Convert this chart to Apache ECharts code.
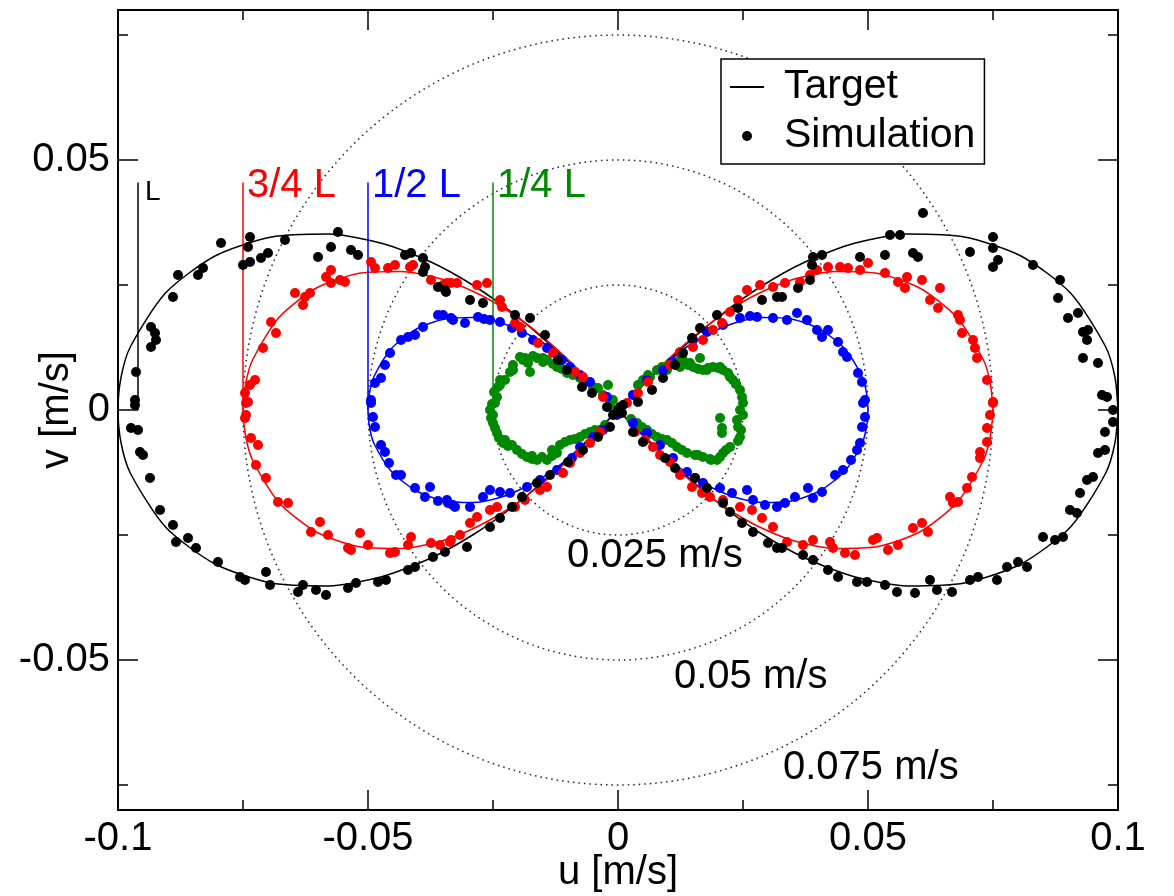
<!DOCTYPE html>
<html>
<head>
<meta charset="utf-8">
<title>Figure-eight velocity trajectories</title>
<script src="https://cdn.jsdelivr.net/npm/echarts@6/dist/echarts.min.js"></script>
<style>
  html, body { margin: 0; padding: 0; background: #fff; }
  #chart { width: 1174px; height: 896px; }
</style>
</head>
<body>
<div id="chart"></div>
<script>
// axis ticks (m/s)
const uMajor = [-0.1, -0.05, 0, 0.05, 0.1];
const uMinor = [-0.075, -0.025, 0.025, 0.075];
const vMajor = [-0.05, 0, 0.05];
const vMinor = [-0.075, -0.025, 0.025, 0.075];

// dotted speed rings
const ringSpeeds = [0.025, 0.05, 0.075];
const ringLabels = ['0.025 m/s', '0.05 m/s', '0.075 m/s'];

// amplitude markers
const markerU = [-0.096, -0.075, -0.05, -0.025];
const markerTop = 0.0455;
const markerNames = ['L', '3/4 L', '1/2 L', '1/4 L'];
const markerColors = ['#000000', '#ff0000', '#0000ff', '#008800'];

// target trajectories [u, v]
const targetL = [
  [0.1,0],[0.0994,0.0065],[0.0975,0.0127],[0.0905,0.0234],[0.0806,0.0308],[0.0693,0.0346],[0.0579,0.0352],
  [0.0471,0.0333],[0.0374,0.0296],[0.0286,0.0247],[0.0207,0.0191],[0.0134,0.0129],[0.0066,0.0065],[0,0],
  [-0.0066,-0.0065],[-0.0134,-0.0129],[-0.0207,-0.0191],[-0.0286,-0.0247],[-0.0374,-0.0296],[-0.0471,-0.0333],
  [-0.0579,-0.0352],[-0.0693,-0.0346],[-0.0806,-0.0308],[-0.0905,-0.0234],[-0.0975,-0.0127],[-0.0994,-0.0065],[-0.1,0],
  [-0.0994,0.0065],[-0.0975,0.0127],[-0.0905,0.0234],[-0.0806,0.0308],[-0.0693,0.0346],[-0.0579,0.0352],
  [-0.0471,0.0333],[-0.0374,0.0296],[-0.0286,0.0247],[-0.0207,0.0191],[-0.0134,0.0129],[-0.0066,0.0065],[0,0],
  [0.0066,-0.0065],[0.0134,-0.0129],[0.0207,-0.0191],[0.0286,-0.0247],[0.0374,-0.0296],[0.0471,-0.0333],
  [0.0579,-0.0352],[0.0693,-0.0346],[0.0806,-0.0308],[0.0905,-0.0234],[0.0975,-0.0127],[0.0994,-0.0065],[0.1,0]
];
const target34L = [
  [0.075,0],[0.0745,0.0051],[0.0731,0.0100],[0.0679,0.0184],[0.0605,0.0243],[0.0520,0.0273],[0.0434,0.0277],
  [0.0353,0.0262],[0.0281,0.0233],[0.0215,0.0195],[0.0155,0.0150],[0.0101,0.0102],[0.0050,0.0051],[0,0],
  [-0.0050,-0.0051],[-0.0101,-0.0102],[-0.0155,-0.0150],[-0.0215,-0.0195],[-0.0281,-0.0233],[-0.0353,-0.0262],
  [-0.0434,-0.0277],[-0.0520,-0.0273],[-0.0605,-0.0243],[-0.0679,-0.0184],[-0.0731,-0.0100],[-0.0745,-0.0051],[-0.075,0],
  [-0.0745,0.0051],[-0.0731,0.0100],[-0.0679,0.0184],[-0.0605,0.0243],[-0.0520,0.0273],[-0.0434,0.0277],
  [-0.0353,0.0262],[-0.0281,0.0233],[-0.0215,0.0195],[-0.0155,0.0150],[-0.0101,0.0102],[-0.0050,0.0051],[0,0],
  [0.0050,-0.0051],[0.0101,-0.0102],[0.0155,-0.0150],[0.0215,-0.0195],[0.0281,-0.0233],[0.0353,-0.0262],
  [0.0434,-0.0277],[0.0520,-0.0273],[0.0605,-0.0243],[0.0679,-0.0184],[0.0731,-0.0100],[0.0745,-0.0051],[0.075,0]
];
const target12L = [
  [0.05,0],[0.0497,0.0034],[0.0488,0.0067],[0.0453,0.0123],[0.0403,0.0162],[0.0347,0.0182],[0.0290,0.0185],
  [0.0236,0.0175],[0.0187,0.0155],[0.0143,0.0130],[0.0104,0.0100],[0.0067,0.0068],[0.0033,0.0034],[0,0],
  [-0.0033,-0.0034],[-0.0067,-0.0068],[-0.0104,-0.0100],[-0.0143,-0.0130],[-0.0187,-0.0155],[-0.0236,-0.0175],
  [-0.0290,-0.0185],[-0.0347,-0.0182],[-0.0403,-0.0162],[-0.0453,-0.0123],[-0.0488,-0.0067],[-0.0497,-0.0034],[-0.05,0],
  [-0.0497,0.0034],[-0.0488,0.0067],[-0.0453,0.0123],[-0.0403,0.0162],[-0.0347,0.0182],[-0.0290,0.0185],
  [-0.0236,0.0175],[-0.0187,0.0155],[-0.0143,0.0130],[-0.0104,0.0100],[-0.0067,0.0068],[-0.0033,0.0034],[0,0],
  [0.0033,-0.0034],[0.0067,-0.0068],[0.0104,-0.0100],[0.0143,-0.0130],[0.0187,-0.0155],[0.0236,-0.0175],
  [0.0290,-0.0185],[0.0347,-0.0182],[0.0403,-0.0162],[0.0453,-0.0123],[0.0488,-0.0067],[0.0497,-0.0034],[0.05,0]
];

// simulated samples [u, v]
const simL = [
  [-0.0794,0.0334],[-0.0736,0.0346],[-0.0740,0.0326],[-0.0750,0.0290],[-0.0736,0.0296],[-0.0666,0.0340],[-0.0560,0.0356],
  [-0.0574,0.0326],[-0.0600,0.0306],[-0.0714,0.0304],[-0.0700,0.0314],[-0.0534,0.0320],[-0.0520,0.0310],[-0.0426,0.0310],
  [-0.0414,0.0314],[-0.0390,0.0304],[-0.0386,0.0286],[-0.0390,0.0276],[-0.0360,0.0246],[-0.0344,0.0236],[-0.0830,0.0284],
  [-0.0840,0.0270],[-0.0880,0.0270],[-0.0890,0.0226],[-0.0934,0.0166],[-0.0926,0.0154],[-0.0924,0.0140],[-0.0934,0.0126],
  [-0.0964,0.0076],[-0.0966,0.0020],
  [-0.0966,0.0010],[-0.0974,-0.0036],[-0.0960,-0.0040],[-0.0956,-0.0084],[-0.0950,-0.0090],[-0.0936,-0.0136],[-0.0916,-0.0200],
  [-0.0890,-0.0230],[-0.0884,-0.0264],[-0.0860,-0.0256],[-0.0844,-0.0276],[-0.0800,-0.0304],[-0.0756,-0.0334],[-0.0746,-0.0340],
  [-0.0704,-0.0324],[-0.0696,-0.0350],[-0.0640,-0.0364],[-0.0630,-0.0350],[-0.0604,-0.0360],[-0.0584,-0.0370],[-0.0540,-0.0356],
  [-0.0524,-0.0346],[-0.0480,-0.0344],[-0.0464,-0.0340],[-0.0420,-0.0320],[-0.0406,-0.0314],[-0.0370,-0.0294],[-0.0346,-0.0284],
  [-0.0346,0.0240],[-0.0296,0.0220],[-0.0270,0.0214],[-0.0206,0.0190],[-0.0176,0.0184],[-0.0146,0.0150],[-0.0120,0.0100],
  [-0.0102,0.0080],[-0.0072,0.0046],[-0.0052,0.0034],[-0.0022,0.0006],[0.0004,0.0006],[0.0040,0.0016],[0.0068,0.0040],
  [0.0090,0.0064],[0.0114,0.0090],[0.0130,0.0114],[0.0148,0.0144],[0.0164,0.0164],[0.0198,0.0190],[0.0240,0.0204],
  [0.0288,0.0220],[0.0318,0.0226],[0,0],[0.0010,0.0010],[-0.0010,-0.0010],
  [-0.0016,-0.0034],[-0.0040,-0.0054],[-0.0070,-0.0080],[-0.0100,-0.0104],[-0.0136,-0.0130],[-0.0162,-0.0146],[-0.0192,-0.0174],
  [-0.0212,-0.0194],[-0.0236,-0.0216],[-0.0256,-0.0234],[-0.0302,-0.0274],[0.0008,-0.0006],[0.0030,-0.0044],[0.0050,-0.0064],
  [0.0094,-0.0096],[0.0114,-0.0116],[0.0154,-0.0136],[0.0178,-0.0156],[0.0210,-0.0186],[0.0224,-0.0204],[0.0248,-0.0226],
  [0.0270,-0.0244],[0.0300,-0.0266],[0.0318,-0.0276],
  [0.0610,0.0394],[0.0544,0.0350],[0.0564,0.0350],[0.0390,0.0306],[0.0408,0.0310],[0.0388,0.0290],[0.0384,0.0260],
  [0.0360,0.0244],[0.0328,0.0226],[0.0484,0.0306],[0.0534,0.0310],[0.0590,0.0314],[0.0600,0.0306],[0.0704,0.0316],
  [0.0750,0.0346],[0.0750,0.0324],[0.0760,0.0300],[0.0750,0.0286],[0.0830,0.0290],[0.0884,0.0260],[0.0880,0.0224],
  [0.0900,0.0184],[0.0920,0.0194],[0.0930,0.0156],[0.0940,0.0160],[0.0938,0.0140],[0.0930,0.0104],[0.0960,0.0094],
  [0.0968,0.0030],[0.0978,0.0026],
  [0.0328,-0.0276],[0.0370,-0.0290],[0.0390,-0.0300],[0.0420,-0.0320],[0.0440,-0.0334],[0.0478,-0.0344],[0.0498,-0.0344],
  [0.0534,-0.0350],[0.0558,-0.0364],[0.0594,-0.0366],[0.0624,-0.0340],[0.0638,-0.0360],[0.0668,-0.0364],[0.0704,-0.0340],
  [0.0720,-0.0334],[0.0758,-0.0340],[0.0778,-0.0314],[0.0800,-0.0304],[0.0818,-0.0314],[0.0850,-0.0254],[0.0874,-0.0260],
  [0.0890,-0.0254],[0.0904,-0.0200],[0.0918,-0.0206],[0.0924,-0.0166],[0.0938,-0.0140],[0.0950,-0.0134],[0.0960,-0.0086],
  [0.0974,-0.0080],[0.0974,-0.0044],[0.0990,-0.0024],[0.0990,0.0000]
];
const sim34L = [
  [-0.0574,0.0280],[-0.0584,0.0266],[-0.0574,0.0254],[-0.0556,0.0260],[-0.0546,0.0256],[-0.0494,0.0296],[-0.0486,0.0284],
  [-0.0460,0.0284],[-0.0446,0.0290],[-0.0416,0.0286],[-0.0410,0.0290],[-0.0374,0.0260],[-0.0350,0.0250],[-0.0334,0.0254],
  [-0.0646,0.0234],[-0.0626,0.0226],[-0.0616,0.0234],[-0.0630,0.0210],[-0.0694,0.0176],[-0.0684,0.0154],[-0.0710,0.0124],
  [-0.0726,0.0060],[-0.0736,0.0050],[-0.0746,0.0034],[-0.0740,0.0016],
  [-0.0744,0.0014],[-0.0744,-0.0010],[-0.0746,-0.0016],[-0.0734,-0.0056],[-0.0720,-0.0070],[-0.0724,-0.0110],[-0.0704,-0.0136],
  [-0.0680,-0.0184],[-0.0660,-0.0186],[-0.0614,-0.0244],[-0.0596,-0.0224],[-0.0580,-0.0250],[-0.0540,-0.0276],[-0.0534,-0.0280],
  [-0.0516,-0.0246],[-0.0500,-0.0270],[-0.0456,-0.0286],[-0.0446,-0.0284],[-0.0414,-0.0254],[-0.0420,-0.0270],[-0.0374,-0.0266],
  [-0.0356,-0.0270],[-0.0334,-0.0260],
  [-0.0342,0.0254],[-0.0322,0.0254],[-0.0282,0.0250],[-0.0262,0.0254],[-0.0236,0.0220],[-0.0232,0.0206],[-0.0206,0.0174],
  [-0.0196,0.0166],[-0.0160,0.0134],[-0.0130,0.0114],[-0.0086,0.0076],[-0.0070,0.0066],[-0.0030,0.0026],[0.0018,0.0014],
  [0.0040,0.0034],[0.0060,0.0056],[0.0104,0.0090],[0.0124,0.0116],[0.0150,0.0126],[0.0170,0.0140],[0.0190,0.0160],
  [0.0208,0.0174],[0.0224,0.0196],[0.0240,0.0220],[0.0258,0.0240],[0.0284,0.0250],[0.0310,0.0246],
  [-0.0036,-0.0044],[-0.0056,-0.0066],[-0.0076,-0.0086],[-0.0096,-0.0106],[-0.0110,-0.0126],[-0.0142,-0.0154],[-0.0156,-0.0160],
  [-0.0186,-0.0180],[-0.0206,-0.0194],[-0.0242,-0.0194],[-0.0256,-0.0200],[-0.0282,-0.0214],[-0.0296,-0.0226],[-0.0316,-0.0250],
  [-0.0336,-0.0264],[0.0034,-0.0044],[0.0054,-0.0060],[0.0070,-0.0074],[0.0084,-0.0090],[0.0104,-0.0104],[0.0124,-0.0130],
  [0.0148,-0.0154],[0.0168,-0.0166],[0.0184,-0.0174],[0.0210,-0.0180],[0.0244,-0.0194],[0.0268,-0.0200],[0.0288,-0.0216],
  [0.0310,-0.0234],
  [0.0334,0.0254],[0.0364,0.0256],[0.0384,0.0270],[0.0398,0.0280],[0.0420,0.0286],[0.0444,0.0286],[0.0460,0.0284],
  [0.0484,0.0280],[0.0500,0.0294],[0.0534,0.0274],[0.0560,0.0256],[0.0578,0.0266],[0.0574,0.0244],[0.0608,0.0260],
  [0.0644,0.0244],[0.0624,0.0220],[0.0640,0.0204],[0.0680,0.0190],[0.0684,0.0180],[0.0688,0.0154],[0.0710,0.0140],
  [0.0714,0.0124],[0.0718,0.0104],[0.0738,0.0060],[0.0750,0.0016],
  [0.0750,0.0014],[0.0744,-0.0010],[0.0738,-0.0036],[0.0738,-0.0064],[0.0724,-0.0084],[0.0724,-0.0096],[0.0708,-0.0134],
  [0.0698,-0.0156],[0.0664,-0.0174],[0.0670,-0.0186],[0.0680,-0.0184],[0.0608,-0.0226],[0.0590,-0.0236],[0.0620,-0.0244],
  [0.0560,-0.0270],[0.0540,-0.0280],[0.0518,-0.0256],[0.0510,-0.0260],[0.0474,-0.0290],[0.0454,-0.0286],[0.0430,-0.0276],
  [0.0424,-0.0264],[0.0390,-0.0260],[0.0370,-0.0270],[0.0338,-0.0264]
];
const sim12L = [
  [-0.0360,0.0190],[-0.0334,0.0184],[-0.0390,0.0166],[-0.0406,0.0150],[-0.0434,0.0140],[-0.0456,0.0114],[-0.0474,0.0064],
  [-0.0486,0.0054],[-0.0494,0.0020],[-0.0420,0.0146],[-0.0466,0.0090],
  [-0.0494,0.0014],[-0.0490,-0.0014],[-0.0486,-0.0034],[-0.0474,-0.0070],[-0.0466,-0.0084],[-0.0444,-0.0130],[-0.0434,-0.0130],
  [-0.0406,-0.0156],[-0.0376,-0.0154],[-0.0386,-0.0174],[-0.0340,-0.0186],[-0.0326,-0.0194],[-0.0458,-0.0106],[-0.0360,-0.0182],
  [-0.0350,0.0190],[-0.0330,0.0180],[-0.0306,0.0174],[-0.0280,0.0186],[-0.0256,0.0180],[-0.0236,0.0176],[-0.0212,0.0164],
  [-0.0192,0.0154],[-0.0170,0.0140],[-0.0142,0.0124],[-0.0112,0.0100],[-0.0096,0.0086],[-0.0056,0.0056],[-0.0022,0.0026],
  [0.0030,0.0030],[0.0058,0.0060],[0.0090,0.0080],[0.0124,0.0114],[0.0150,0.0140],[0.0178,0.0156],[0.0210,0.0170],
  [0.0244,0.0184],[0.0278,0.0186],[0.0310,0.0184],[-0.0076,0.0070],[0.0108,0.0096],[0.0264,0.0188],[-0.0268,0.0182],
  [-0.0002,-0.0010],[-0.0030,-0.0040],[-0.0050,-0.0054],[-0.0076,-0.0074],[-0.0092,-0.0096],[-0.0122,-0.0120],[-0.0156,-0.0140],
  [-0.0182,-0.0154],[-0.0216,-0.0166],[-0.0256,-0.0160],[-0.0270,-0.0174],[-0.0296,-0.0194],[-0.0330,-0.0190],[-0.0342,-0.0180],
  [0.0030,-0.0026],[0.0058,-0.0046],[0.0084,-0.0070],[0.0110,-0.0096],[0.0138,-0.0124],[0.0170,-0.0146],[0.0204,-0.0156],
  [0.0228,-0.0166],[0.0258,-0.0160],[0.0270,-0.0180],[0.0294,-0.0190],[0.0318,-0.0194],[-0.0236,-0.0164],[0.0154,-0.0136],
  [0.0338,0.0180],[0.0358,0.0194],[0.0378,0.0180],[0.0398,0.0160],[0.0420,0.0160],[0.0408,0.0146],[0.0440,0.0136],
  [0.0450,0.0116],[0.0458,0.0106],[0.0480,0.0074],[0.0488,0.0056],[0.0494,0.0020],
  [0.0490,0.0014],[0.0494,-0.0014],[0.0488,-0.0034],[0.0484,-0.0066],[0.0478,-0.0080],[0.0450,-0.0120],[0.0434,-0.0130],
  [0.0408,-0.0164],[0.0380,-0.0156],[0.0390,-0.0176],[0.0354,-0.0174],[0.0334,-0.0186],[0.0466,-0.0100]
];
const sim14L = [
  [-0.0246,0.0014],[-0.0240,0.0046],[-0.0226,0.0060],[-0.0210,0.0080],[-0.0196,0.0106],[-0.0180,0.0094],[-0.0162,0.0104],
  [-0.0142,0.0100],[-0.0122,0.0086],[-0.0102,0.0074],[-0.0076,0.0064],[-0.0050,0.0046],[-0.0020,0.0050],[-0.0010,0.0020],
  [-0.0216,0.0076],[-0.0176,0.0076],[-0.0236,0.0060],[-0.0242,0.0026],[-0.0256,0.0000],[-0.0250,-0.0026],[-0.0242,-0.0046],
  [-0.0230,-0.0066],[-0.0202,-0.0080],[-0.0182,-0.0094],[-0.0162,-0.0100],[-0.0142,-0.0100],[-0.0122,-0.0086],[-0.0116,-0.0070],
  [-0.0096,-0.0060],[-0.0076,-0.0054],[-0.0056,-0.0044],[-0.0036,-0.0040],[-0.0016,0.0006],[-0.0190,0.0100],[-0.0150,0.0096],
  [-0.0220,-0.0072],[-0.0172,-0.0098],[-0.0132,-0.0092],[-0.0250,-0.0010],[-0.0086,-0.0058],
  [-0.0236,0.0050],[-0.0210,0.0090],[-0.0186,0.0104],[-0.0170,0.0108],[-0.0150,0.0104],[-0.0130,0.0092],[-0.0112,0.0082],
  [-0.0090,0.0070],[-0.0064,0.0056],[-0.0040,0.0044],[-0.0030,0.0030],[-0.0226,-0.0060],[-0.0212,-0.0070],[-0.0192,-0.0088],
  [-0.0172,-0.0092],[-0.0152,-0.0094],[-0.0132,-0.0080],[-0.0106,-0.0064],[-0.0066,-0.0048],[-0.0046,-0.0040],[-0.0026,-0.0030],
  [-0.0248,0.0036],[-0.0252,0.0012],[-0.0254,-0.0016],[-0.0246,-0.0036],[-0.0238,-0.0056],
  [0.0064,0.0066],[0.0098,0.0080],[0.0124,0.0086],[0.0144,0.0094],[0.0164,0.0104],[0.0178,0.0080],[0.0204,0.0086],
  [0.0224,0.0066],[0.0244,0.0040],[0.0250,0.0014],[0.0050,0.0060],[0.0078,0.0080],[0.0104,0.0094],[0.0130,0.0100],
  [0.0150,0.0086],[0.0170,0.0080],[0.0190,0.0086],[0.0210,0.0080],[0.0230,0.0060],[0.0244,0.0000],[0.0238,-0.0020],
  [0.0244,-0.0054],[0.0224,-0.0074],[0.0210,-0.0086],[0.0198,-0.0100],[0.0170,-0.0094],[0.0138,-0.0086],[0.0118,-0.0074],
  [0.0098,-0.0060],[0.0078,-0.0054],[0.0058,-0.0040],[0.0038,-0.0026],[0.0204,-0.0016],[0.0208,-0.0036],[0.0208,-0.0046],
  [0.0184,-0.0098],[0.0154,-0.0090],[0.0240,-0.0034],[0.0236,0.0052],[0.0030,0.0030],
  [0.0040,0.0050],[0.0060,0.0070],[0.0088,0.0086],[0.0116,0.0096],[0.0140,0.0090],[0.0160,0.0082],[0.0180,0.0084],
  [0.0200,0.0084],[0.0220,0.0074],[0.0236,0.0052],[0.0248,0.0026],[0.0250,-0.0010],[0.0246,-0.0040],[0.0240,-0.0062],
  [0.0216,-0.0080],[0.0204,-0.0094],[0.0186,-0.0100],[0.0160,-0.0090],[0.0128,-0.0080],[0.0108,-0.0066],[0.0088,-0.0058],
  [0.0068,-0.0048],[0.0048,-0.0034],[0.0026,-0.0018]
];

const FONT = "'Liberation Sans', Arial, Helvetica, sans-serif";
const INK = '#000';

// frame axis: line + ticks pointing inside
function frameX(gridIndex, position, ticks, len, labels, line) {
  return {
    type: 'value', gridIndex: gridIndex, position: position, min: -0.1, max: 0.1,
    axisLine: { show: line, onZero: false, lineStyle: { color: INK, width: 2 } },
    axisTick: { show: true, inside: true, length: len, customValues: ticks, lineStyle: { color: INK, width: 1.5 } },
    axisLabel: { show: labels, customValues: ticks, margin: 9, fontSize: 40, color: INK, fontFamily: FONT },
    splitLine: { show: false }
  };
}
function frameY(gridIndex, position, ticks, len, labels, line) {
  return {
    type: 'value', gridIndex: gridIndex, position: position, min: -0.08, max: 0.08,
    axisLine: { show: line, onZero: false, lineStyle: { color: INK, width: 2 } },
    axisTick: { show: true, inside: true, length: len, customValues: ticks, lineStyle: { color: INK, width: 1.5 } },
    axisLabel: { show: labels, customValues: ticks, margin: 8, fontSize: 40, color: INK, fontFamily: FONT },
    splitLine: { show: false }
  };
}

const xMain = frameX(0, 'bottom', uMajor, 20, true, true);
xMain.name = 'u [m/s]';
xMain.nameLocation = 'middle';
xMain.nameGap = 43;
xMain.nameMoveOverlap = false;
xMain.nameTextStyle = { fontSize: 40, color: INK, fontFamily: FONT };
const yMain = frameY(0, 'left', vMajor, 20, true, true);
yMain.name = 'v [m/s]';
yMain.nameLocation = 'middle';
yMain.nameGap = 41;
yMain.nameMoveOverlap = false;
yMain.nameTextStyle = { fontSize: 40, color: INK, fontFamily: FONT };

const targets = [targetL, target34L, target12L];
const sims = [sim14L, sim12L, sim34L, simL];
const simColors = ['#008800', '#0000ff', '#ff0000', '#000000'];

const series = [];
targets.forEach(function (d, i) {
  series.push({
    name: i === 0 ? 'Target' : 'Target ' + markerNames[i],
    type: 'line', data: d, xAxisIndex: 0, yAxisIndex: 0,
    symbol: 'none', smooth: 0.25, z: 3,
    lineStyle: { color: markerColors[i], width: 1.5 },
    itemStyle: { color: markerColors[i] }
  });
});
sims.forEach(function (d, i) {
  series.push({
    name: i === 3 ? 'Simulation' : 'Simulation ' + i,
    type: 'scatter', data: d, xAxisIndex: 0, yAxisIndex: 0,
    symbol: 'circle', symbolSize: 10, z: 4 + i,
    itemStyle: { color: simColors[i], opacity: 1 }
  });
});
markerU.forEach(function (u, i) {
  series.push({
    name: 'marker ' + markerNames[i],
    type: 'line', data: [[u, 0], [u, markerTop]], xAxisIndex: 0, yAxisIndex: 0,
    symbol: 'none', z: 3,
    lineStyle: { color: markerColors[i], width: 1.5 },
    endLabel: {
      show: true, formatter: markerNames[i], color: markerColors[i], fontFamily: FONT,
      fontSize: i === 0 ? 28 : 40, distance: i === 0 ? 7 : 4, offset: [0, i === 0 ? 10 : 3]
    }
  });
});

const gridBox = { left: 118, right: 56, top: 10, bottom: 86, containLabel: false, outerBoundsMode: 'none' };

const option = {
  animation: false,
  backgroundColor: '#fff',
  grid: [Object.assign({}, gridBox), Object.assign({}, gridBox)],
  xAxis: [
    xMain,
    frameX(0, 'top', uMajor, 20, false, true),
    frameX(1, 'bottom', uMinor, 10, false, false),
    frameX(1, 'top', uMinor, 10, false, false)
  ],
  yAxis: [
    yMain,
    frameY(0, 'right', vMajor, 20, false, true),
    frameY(1, 'left', vMinor, 10, false, false),
    frameY(1, 'right', vMinor, 10, false, false)
  ],
  polar: { center: [618, 410], radius: 375 },
  radiusAxis: {
    type: 'value', min: 0, max: ringSpeeds[ringSpeeds.length - 1], interval: ringSpeeds[0],
    axisLine: { show: false }, axisTick: { show: false }, axisLabel: { show: false },
    splitLine: { show: true, lineStyle: { color: '#222', width: 1.5, type: [1.5, 4] } }
  },
  angleAxis: {
    type: 'value', min: 0, max: 360,
    axisLine: { show: false }, axisTick: { show: false }, axisLabel: { show: false },
    splitLine: { show: false }
  },
  legend: {
    data: [
      { name: 'Target', itemStyle: { color: 'rgba(0,0,0,0)', borderWidth: 0, borderColor: 'rgba(0,0,0,0)' } },
      { name: 'Simulation' }
    ],
    orient: 'vertical', left: 721, top: 59,
    padding: [5, 9, 5, 8], itemGap: 3,
    itemWidth: 34, itemHeight: 10,
    borderColor: INK, borderWidth: 1.5, backgroundColor: '#fff',
    textStyle: { fontSize: 41, color: INK, fontFamily: FONT, lineHeight: 46, padding: [0, 0, 0, 15] }
  },
  graphic: [
    { type: 'text', x: 567, y: 556, z: 10, style: { text: ringLabels[0], font: '40px ' + FONT, fill: INK, verticalAlign: 'middle' } },
    { type: 'text', x: 674, y: 677, z: 10, style: { text: ringLabels[1], font: '40px ' + FONT, fill: INK, verticalAlign: 'middle' } },
    { type: 'text', x: 783, y: 768, z: 10, style: { text: ringLabels[2], font: '40px ' + FONT, fill: INK, verticalAlign: 'middle' } }
  ],
  series: series
};

const myChart = echarts.init(document.getElementById('chart'));
myChart.setOption(option);
</script>
</body>
</html>
